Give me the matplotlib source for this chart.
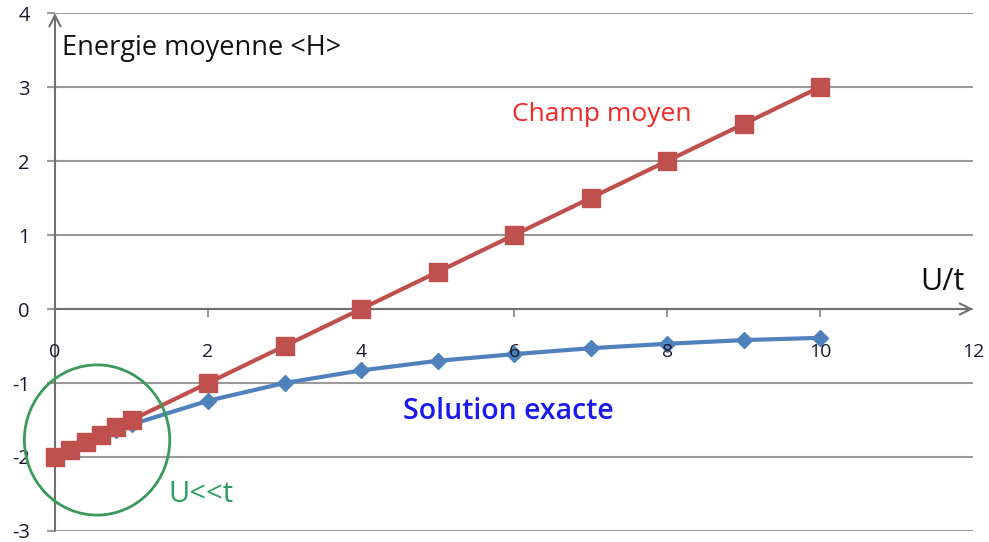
import matplotlib.pyplot as plt
from matplotlib.patches import Ellipse

plt.rcParams['font.family'] = ['Open Sans', 'DejaVu Sans']
plt.rcParams['axes.unicode_minus'] = False

# U/t values (same for both series)
u_vals = [0, 0.2, 0.4, 0.6, 0.8, 1, 2, 3, 4, 5, 6, 7, 8, 9, 10]
# mean-field energy (red squares)
champ_moyen = [-2.0, -1.9, -1.8, -1.7, -1.6, -1.5, -1.0, -0.5, 0.0, 0.5, 1.0, 1.5, 2.0, 2.5, 3.0]
# exact energy (blue diamonds)
solution_exacte = [-2.0, -1.90, -1.81, -1.72, -1.64, -1.56, -1.24, -1.0, -0.83, -0.70,
                   -0.61, -0.53, -0.47, -0.42, -0.39]
x_ticks = [0, 2, 4, 6, 8, 10, 12]
y_ticks = [-3, -2, -1, 0, 1, 2, 3, 4]

grey = '#9a9a9a'

fig = plt.figure(figsize=(9.89, 5.42), dpi=100)
ax = fig.add_axes([0.0556, 0.0203, 0.9284, 0.9557])
ax.set_xlim(0, 12)
ax.set_ylim(-3, 4)

# horizontal grid
for y in y_ticks:
    ax.axhline(y, color=grey, lw=1.5, zorder=1)

for s in ax.spines.values():
    s.set_visible(False)

# axes drawn as arrows
ax.annotate('', xy=(12, 0), xytext=(0, 0), annotation_clip=False,
            arrowprops=dict(arrowstyle='->', color='#707070', lw=1.5,
                            mutation_scale=20, shrinkA=0, shrinkB=0))
ax.annotate('', xy=(0, 4), xytext=(0, -3), annotation_clip=False,
            arrowprops=dict(arrowstyle='->', color='#707070', lw=1.5,
                            mutation_scale=20, shrinkA=0, shrinkB=0))

# x ticks sit on the y=0 axis
for xt in x_ticks[1:-1]:
    ax.plot([xt, xt], [0, -0.1], color=grey, lw=1.5, zorder=1)
ax.set_xticks([])
ax.set_yticks(y_ticks)
ax.tick_params(axis='y', length=6, width=1.5, color=grey, pad=12,
               labelsize=14.5, labelcolor='#1a1a2e')
for xt in x_ticks:
    ax.text(xt, -0.58, str(xt), ha='center', va='center', fontsize=14,
            color='#1a1a2e')

ax.plot(u_vals, champ_moyen, color='#c0504d', lw=3, marker='s', markersize=13,
        zorder=3, clip_on=False)
ax.plot(u_vals, solution_exacte, color='#4f81bd', lw=3, marker='D', markersize=8.5,
        zorder=2, clip_on=False)

circle = Ellipse((0.55, -1.77), 1.9, 2.03, fill=False, edgecolor='#3a9a5a', lw=2,
                 zorder=4, clip_on=False)
ax.add_patch(circle)

ax.text(0.09, 3.53, 'Energie moyenne <H>', fontsize=19.5, color='#111111',
        ha='left', va='center')
ax.text(7.14, 2.63, 'Champ moyen', fontsize=19, color='#f02828',
        ha='center', va='center')
ax.text(5.92, -1.38, 'Solution exacte', fontsize=20.5, color='#1a1aee',
        ha='center', va='center', fontweight='semibold')
ax.text(1.91, -2.51, 'U<<t', fontsize=21, color='#2e9e5e',
        ha='center', va='center')
ax.text(11.6, 0.36, 'U/t', fontsize=22, color='#111111',
        ha='center', va='center')

fig.savefig('out.png', dpi=100)
